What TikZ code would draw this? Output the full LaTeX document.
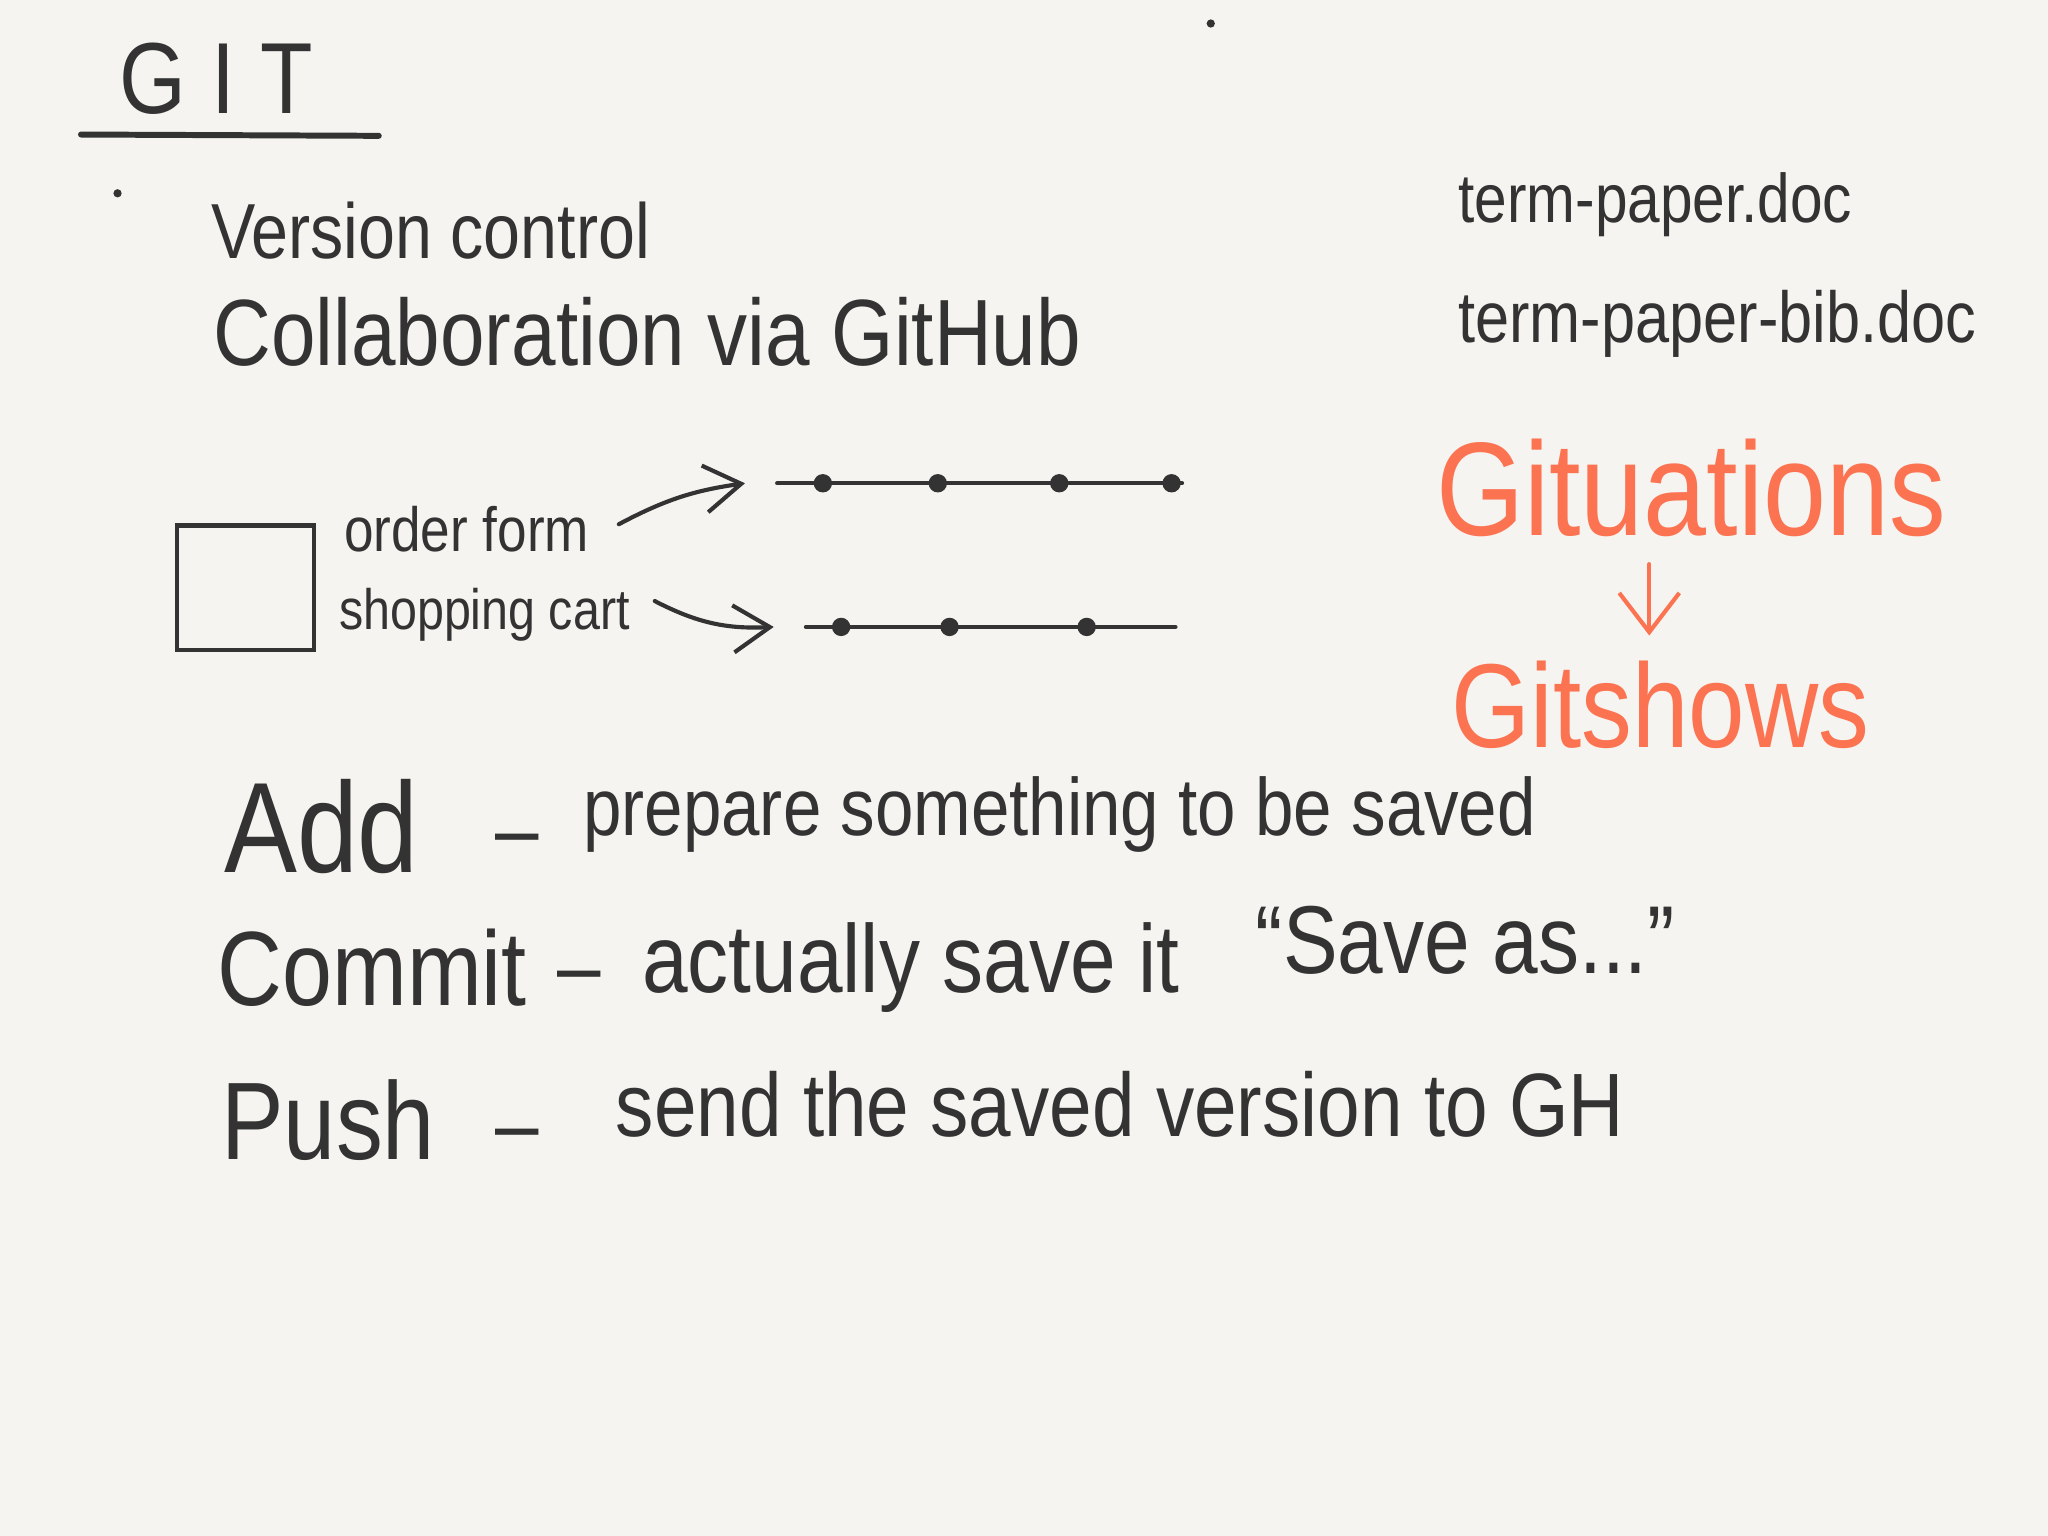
\documentclass[tikz,border=0pt]{standalone}
\usepackage{fontspec}
\setmainfont[FakeStretch=0.85]{Liberation Sans}
\usetikzlibrary{arrows.meta, calc}
\definecolor{paper}{RGB}{245,244,240}
\definecolor{ink}{RGB}{51,51,51}
\definecolor{gitorange}{RGB}{252,115,82}
\newcommand{\fsz}[1]{\fontsize{#1}{#1}\selectfont}

\begin{document}
\begin{tikzpicture}[x=0.01cm, y=-0.01cm, line width=0.9pt, line cap=round, draw=ink,
  >={Straight Barb[length=2.8mm, width=3.6mm]},
  txt/.style={anchor=base west, inner sep=0pt, text=ink},
  dashmark/.style={txt, font=\fsz{20}}]
% paper
\fill[paper] (0,0) rectangle (1568,1176);
\fill[ink] (90,148) circle (0.9pt);
\fill[ink] (927,18) circle (0.9pt);
% title
\node[txt, font=\fsz{22}\addfontfeatures{LetterSpace=25}] (git) at (90,87) {GIT};
\draw[ink, line width=1.3pt] (62,103) -- (290,104);
\node[txt, font=\fsz{17}] (version) at (160,198) {Version control};
\node[txt, font=\fsz{20.5}] (collab) at (162,280) {Collaboration via GitHub};
% files
\node[txt, font=\fsz{15}] (paper1) at (1115,170) {term-paper.doc};
\node[txt, font=\fsz{15.7}] (paper2) at (1115,262) {term-paper-bib.doc};
% gituations -> gitshows
\node[txt, font=\fsz{29}, text=gitorange] (gituations) at (1098,410) {Gituations};
\node[txt, font=\fsz{26}, text=gitorange] (gitshows) at (1110,572) {Gitshows};
\draw[->, gitorange, >={Straight Barb[length=3mm, width=4.6mm]}, shorten <=5.5pt, shorten >=5pt]
  ($(gituations.south)+(-32,0)$) -- ($(gituations.south |- gitshows.north)+(-32,0)$);
% one file, two branches
\node[draw=ink, line width=1pt, minimum width=1.05cm, minimum height=0.95cm] (form) at (188,450) {};
\node[txt, font=\fsz{13.6}] (order) at (262,422) {order form};
\node[txt, font=\fsz{12.4}] (cart) at (258,482) {shopping cart};
\coordinate (ordA) at (595,370);
\coordinate (ordB) at (905,370);
\coordinate (cartA) at (617,480);
\coordinate (cartB) at (900,480);
\draw[->] ([xshift=6pt, yshift=1pt]order.east) to[bend left=10] ([xshift=-7pt]ordA);
\draw[->] ([xshift=5pt, yshift=3pt]cart.east) to[bend right=15] ([xshift=-7pt]cartA);
\draw (ordA) -- (ordB);
\foreach \x in {630,718,811,897}{ \fill[ink] (\x,370) circle (2pt); }
\draw (cartA) -- (cartB);
\foreach \x in {644,727,832}{ \fill[ink] (\x,480) circle (2pt); }
% commands
\node[txt, font=\fsz{28}] (add) at (170,668) {Add};
\node[dashmark] (addd) at (378,659) {–};
\node[txt, font=\fsz{17.7}] (addt) at (445,640) {prepare something to be saved};
\node[txt, font=\fsz{23}] (commit) at (165,770) {Commit};
\node[dashmark] (commitd) at (425,764) {–};
\node[txt, font=\fsz{21}] (committ) at (490,760) {actually save it};
\node[txt, font=\fsz{21}] (saveas) at (960,745) {“Save as...”};
\node[txt, font=\fsz{24}] (push) at (168,888) {Push};
\node[dashmark] (pushd) at (378,885) {–};
\node[txt, font=\fsz{19.6}] (pusht) at (470,870) {send the saved version to GH};
\end{tikzpicture}
\end{document}
